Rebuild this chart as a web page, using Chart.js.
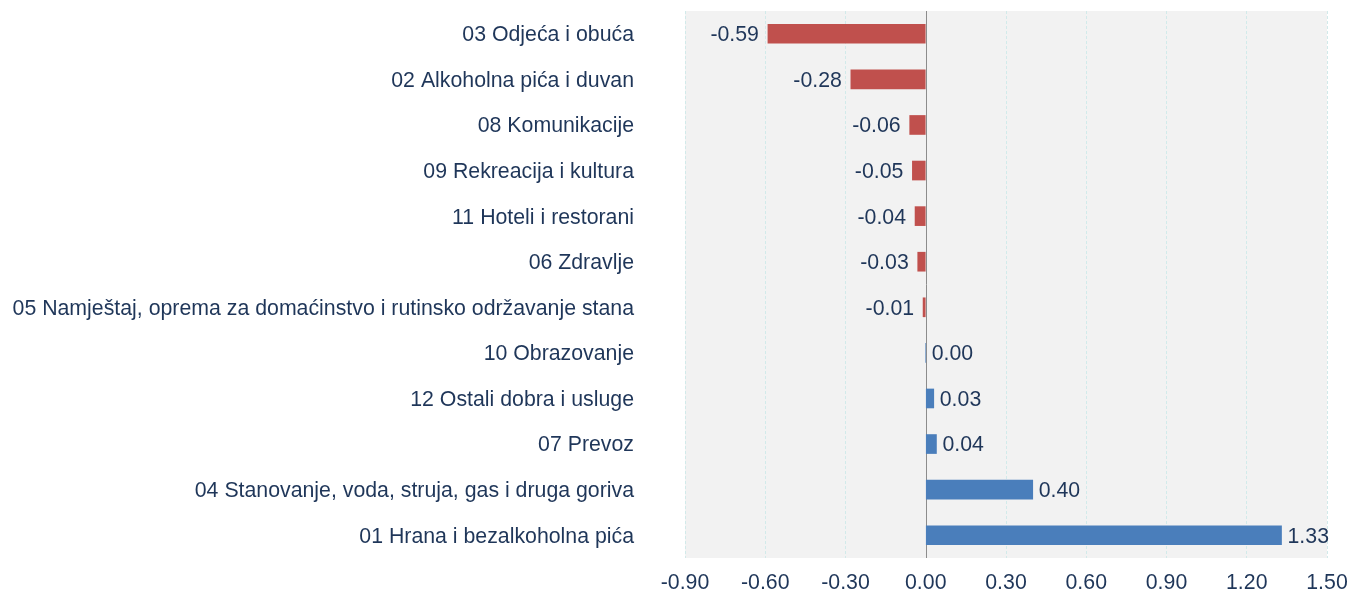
<!DOCTYPE html>
<html>
<head>
<meta charset="utf-8">
<script src="https://cdn.jsdelivr.net/npm/chart.js@4/dist/chart.umd.min.js"></script>
<style>
  html, body { margin: 0; padding: 0; background: #fff; }
  #wrap { width: 1349px; height: 592px; }
</style>
</head>
<body>
<div id="wrap"><canvas id="chart" width="1349" height="592"></canvas></div>
<script>
const categories = [
  '03 Odjeća i obuća',
  '02 Alkoholna pića i duvan',
  '08 Komunikacije',
  '09 Rekreacija i kultura',
  '11 Hoteli i restorani',
  '06 Zdravlje',
  '05 Namještaj, oprema za domaćinstvo i rutinsko održavanje stana',
  '10 Obrazovanje',
  '12 Ostali dobra i usluge',
  '07 Prevoz',
  '04 Stanovanje, voda, struja, gas i druga goriva',
  '01 Hrana i bezalkoholna pića'
];
const values = [-0.59, -0.28, -0.06, -0.05, -0.04, -0.03, -0.01, 0.00, 0.03, 0.04, 0.40, 1.33];
const xTicks = [-0.90, -0.60, -0.30, 0.00, 0.30, 0.60, 0.90, 1.20, 1.50];

const textColor = '#1f3659';
const fontFamily = '"Liberation Sans", Arial, sans-serif';
const fontSize = 21.3;

// gray plot background + solid zero line
const plotBg = {
  id: 'plotBg',
  beforeDraw(chart) {
    const { ctx, chartArea: a } = chart;
    ctx.save();
    ctx.fillStyle = '#f2f2f2';
    ctx.fillRect(a.left, a.top, a.right - a.left, a.bottom - a.top);
    ctx.restore();
  },
  beforeDatasetsDraw(chart) {
    const { ctx, chartArea: a } = chart;
    const x0 = Math.round(chart.scales.x.getPixelForValue(0)) + 0.5;
    ctx.save();
    ctx.strokeStyle = '#8c8c8c';
    ctx.lineWidth = 1;
    ctx.beginPath();
    ctx.moveTo(x0, a.top);
    ctx.lineTo(x0, a.bottom);
    ctx.stroke();
    ctx.restore();
  }
};

// value labels at bar ends
const valueLabels = {
  id: 'valueLabels',
  afterDatasetsDraw(chart) {
    const { ctx } = chart;
    const meta = chart.getDatasetMeta(0);
    ctx.save();
    ctx.font = fontSize + 'px ' + fontFamily;
    ctx.fillStyle = textColor;
    ctx.textBaseline = 'middle';
    meta.data.forEach((bar, i) => {
      const v = values[i];
      if (v < 0) {
        ctx.textAlign = 'right';
        ctx.fillText(v.toFixed(2), bar.x - 9, bar.y + 1.5);
      } else {
        ctx.textAlign = 'left';
        ctx.fillText(v.toFixed(2), bar.x + 6, bar.y + 1.5);
      }
    });
    ctx.restore();
  }
};

new Chart(document.getElementById('chart'), {
  type: 'bar',
  data: {
    labels: categories,
    datasets: [{
      data: values,
      backgroundColor: values.map(v => v < 0 ? '#c0504d' : '#4a7ebb'),
      barThickness: 19,
      borderWidth: 0
    }]
  },
  options: {
    indexAxis: 'y',
    responsive: false,
    animation: false,
    layout: { padding: { top: 11, right: 22, left: 0, bottom: 0 } },
    plugins: {
      legend: { display: false },
      tooltip: { enabled: false }
    },
    scales: {
      x: {
        min: -0.9,
        max: 1.5,
        afterBuildTicks(scale) {
          scale.ticks = xTicks.map(v => ({ value: v }));
        },
        afterFit(scale) {
          scale.height = 34;
          scale.paddingLeft = 0;
          scale.paddingRight = 0;
        },
        ticks: {
          color: textColor,
          font: { size: fontSize, family: fontFamily },
          padding: 12,
          callback: v => Number(v).toFixed(2)
        },
        grid: {
          drawTicks: false,
          color: ctx => (ctx.tick && ctx.tick.value === 0) ? 'rgba(0,0,0,0)' : '#d2eaea'
        },
        border: { display: false, dash: [3, 2] }
      },
      y: {
        afterFit(scale) {
          scale.width = 685;
          scale.paddingTop = 0;
          scale.paddingBottom = 0;
        },
        ticks: {
          color: textColor,
          font: { size: fontSize, family: fontFamily },
          padding: 51,
          labelOffset: 1.5
        },
        grid: { display: false, drawTicks: false },
        border: { display: false }
      }
    }
  },
  plugins: [plotBg, valueLabels]
});
</script>
</body>
</html>
